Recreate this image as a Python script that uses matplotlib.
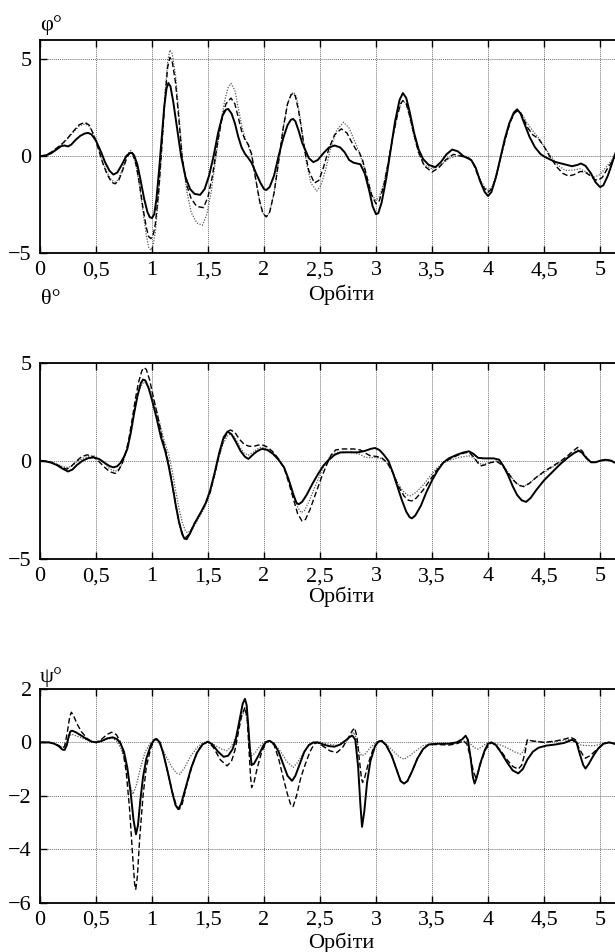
import matplotlib
matplotlib.use("Agg")
import matplotlib.pyplot as plt

plt.rcParams['font.family'] = ['Liberation Serif', 'DejaVu Serif']
plt.rcParams['font.size'] = 16

# -------------------------------------------------------------------------
# phi (top panel): (orbit, degrees)
# -------------------------------------------------------------------------
phi_solid = [(0, 0), (0.05, 0.03), (0.10, 0.15), (0.15, 0.35), (0.19, 0.52), (0.22, 0.55),
             (0.25, 0.5), (0.28, 0.6), (0.32, 0.85), (0.36, 1.05), (0.40, 1.17), (0.43, 1.2),
             (0.46, 1.12), (0.50, 0.8), (0.55, 0.15), (0.58, -0.3), (0.62, -0.75), (0.655, -0.95),
             (0.69, -0.85), (0.73, -0.45), (0.77, 0.0), (0.80, 0.15), (0.82, 0.17), (0.84, 0.05),
             (0.87, -0.45), (0.90, -1.3), (0.93, -2.2), (0.96, -2.9), (0.98, -3.15), (1.00, -3.2),
             (1.02, -3.0), (1.04, -2.2), (1.065, -0.6), (1.09, 1.2), (1.11, 2.6), (1.13, 3.5),
             (1.146, 3.78), (1.165, 3.6), (1.19, 2.8), (1.22, 1.6), (1.26, 0.0), (1.30, -1.1),
             (1.34, -1.7), (1.38, -1.95), (1.43, -2.0), (1.47, -1.7), (1.51, -1.0), (1.55, 0.0),
             (1.59, 1.2), (1.63, 2.1), (1.66, 2.4), (1.68, 2.44), (1.71, 2.2), (1.74, 1.7),
             (1.77, 1.0), (1.80, 0.45), (1.83, 0.12), (1.86, -0.1), (1.89, -0.35), (1.93, -0.9),
             (1.97, -1.4), (2.00, -1.7), (2.02, -1.75), (2.05, -1.6), (2.09, -1.0), (2.13, 0.0),
             (2.17, 0.9), (2.21, 1.6), (2.24, 1.88), (2.26, 1.92), (2.28, 1.8), (2.31, 1.3),
             (2.34, 0.7), (2.37, 0.3), (2.40, -0.1), (2.44, -0.31), (2.48, -0.2), (2.53, 0.15),
             (2.58, 0.45), (2.63, 0.55), (2.68, 0.45), (2.72, 0.2), (2.76, -0.2), (2.80, -0.34),
             (2.86, -0.42), (2.90, -0.9), (2.94, -1.8), (2.97, -2.6), (3.00, -3.0), (3.02, -2.95),
             (3.05, -2.4), (3.09, -1.2), (3.13, 0.3), (3.17, 1.8), (3.21, 2.9), (3.24, 3.26),
             (3.27, 3.0), (3.30, 2.3), (3.34, 1.2), (3.38, 0.35), (3.42, -0.15), (3.47, -0.45),
             (3.53, -0.57), (3.58, -0.3), (3.63, 0.1), (3.68, 0.34), (3.73, 0.25), (3.78, 0.0),
             (3.85, -0.2), (3.89, -0.6), (3.93, -1.3), (3.97, -1.85), (4.00, -2.06), (4.03, -1.85),
             (4.07, -1.1), (4.11, -0.1), (4.15, 0.9), (4.19, 1.7), (4.23, 2.25), (4.26, 2.42),
             (4.29, 2.2), (4.33, 1.6), (4.37, 1.0), (4.42, 0.45), (4.47, 0.1), (4.51, -0.05),
             (4.60, -0.3), (4.68, -0.42), (4.75, -0.52), (4.80, -0.45), (4.83, -0.38), (4.87, -0.5),
             (4.92, -0.9), (4.96, -1.35), (5.00, -1.6), (5.03, -1.5), (5.07, -1.0), (5.10, -0.5),
             (5.13, 0.05), (5.17, 0.6), (5.22, 1.0)]

phi_dash = [(0, 0), (0.05, 0.05), (0.10, 0.2), (0.15, 0.42), (0.20, 0.65), (0.25, 0.95),
            (0.30, 1.3), (0.35, 1.62), (0.40, 1.75), (0.44, 1.6), (0.48, 1.1), (0.52, 0.4),
            (0.56, -0.35), (0.60, -0.95), (0.64, -1.35), (0.67, -1.43), (0.70, -1.3), (0.74, -0.7),
            (0.78, 0.0), (0.81, 0.2), (0.83, 0.1), (0.86, -0.5), (0.89, -1.5), (0.92, -2.7),
            (0.95, -3.7), (0.97, -4.15), (0.99, -4.26), (1.01, -4.1), (1.03, -3.5), (1.06, -1.8),
            (1.09, 0.7), (1.12, 3.3), (1.14, 4.6), (1.16, 5.1), (1.18, 4.9), (1.21, 3.8),
            (1.24, 1.9), (1.27, -0.1), (1.31, -1.5), (1.35, -2.2), (1.40, -2.6), (1.46, -2.66),
            (1.50, -2.1), (1.54, -1.0), (1.58, 0.5), (1.62, 1.8), (1.66, 2.7), (1.705, 3.0),
            (1.74, 2.7), (1.77, 2.0), (1.80, 1.3), (1.83, 0.85), (1.86, 0.6), (1.89, 0.1),
            (1.92, -1.0), (1.96, -2.3), (1.99, -2.95), (2.02, -3.14), (2.05, -2.9), (2.09, -1.9),
            (2.13, -0.3), (2.17, 1.4), (2.21, 2.7), (2.24, 3.15), (2.26, 3.26), (2.28, 3.1),
            (2.31, 2.3), (2.34, 1.2), (2.37, 0.1), (2.40, -0.75), (2.45, -1.39), (2.49, -1.25),
            (2.53, -0.6), (2.58, 0.4), (2.63, 1.1), (2.69, 1.41), (2.74, 1.2), (2.78, 0.75),
            (2.82, 0.35), (2.85, 0.2), (2.88, -0.2), (2.92, -1.1), (2.96, -2.0), (3.00, -2.46),
            (3.03, -2.3), (3.07, -1.5), (3.11, -0.3), (3.15, 1.0), (3.19, 2.1), (3.22, 2.7),
            (3.24, 2.87), (3.27, 2.7), (3.30, 2.1), (3.34, 1.1), (3.38, 0.2), (3.43, -0.5),
            (3.50, -0.82), (3.56, -0.6), (3.62, -0.2), (3.69, 0.09), (3.76, 0.0), (3.83, -0.1),
            (3.87, -0.4), (3.91, -1.0), (3.95, -1.55), (4.00, -1.86), (4.04, -1.65), (4.08, -0.9),
            (4.12, 0.1), (4.16, 1.0), (4.20, 1.8), (4.24, 2.25), (4.27, 2.35), (4.30, 2.15),
            (4.35, 1.5), (4.40, 1.1), (4.45, 0.9), (4.50, 0.5), (4.56, -0.1), (4.62, -0.6),
            (4.67, -0.9), (4.72, -1.03), (4.77, -0.95), (4.82, -0.8), (4.86, -0.8), (4.91, -1.0),
            (4.95, -1.2), (4.98, -1.25), (5.02, -1.1), (5.06, -0.7), (5.10, -0.35), (5.13, -0.05),
            (5.17, 0.4), (5.22, 0.8)]

phi_dot = [(0, 0), (0.05, 0.05), (0.10, 0.2), (0.15, 0.4), (0.20, 0.62), (0.25, 0.92),
           (0.30, 1.25), (0.35, 1.55), (0.40, 1.67), (0.44, 1.55), (0.48, 1.1), (0.52, 0.45),
           (0.56, -0.3), (0.60, -0.85), (0.64, -1.25), (0.67, -1.34), (0.70, -1.2), (0.74, -0.6),
           (0.78, 0.1), (0.81, 0.29), (0.83, 0.15), (0.86, -0.5), (0.89, -1.6), (0.92, -2.9),
           (0.95, -4.1), (0.97, -4.7), (0.99, -4.86), (1.01, -4.6), (1.03, -3.9), (1.06, -2.0),
           (1.09, 0.6), (1.12, 3.5), (1.14, 4.9), (1.16, 5.48), (1.18, 5.3), (1.21, 4.2),
           (1.24, 2.2), (1.27, 0.0), (1.31, -1.8), (1.35, -2.9), (1.40, -3.45), (1.45, -3.57),
           (1.49, -3.0), (1.53, -1.8), (1.57, -0.1), (1.61, 1.6), (1.65, 2.9), (1.68, 3.55),
           (1.705, 3.76), (1.74, 3.4), (1.77, 2.5), (1.80, 1.6), (1.83, 0.95), (1.86, 0.5),
           (1.89, 0.0), (1.92, -1.0), (1.96, -2.3), (1.99, -2.95), (2.02, -3.14), (2.05, -2.9),
           (2.09, -1.9), (2.13, -0.3), (2.17, 1.4), (2.21, 2.7), (2.24, 3.2), (2.265, 3.3),
           (2.29, 3.05), (2.32, 2.1), (2.35, 0.8), (2.38, -0.4), (2.42, -1.4), (2.47, -1.8),
           (2.51, -1.5), (2.55, -0.7), (2.60, 0.5), (2.65, 1.35), (2.71, 1.75), (2.76, 1.45),
           (2.80, 0.9), (2.85, 0.2), (2.89, -0.5), (2.93, -1.4), (2.97, -2.05), (3.00, -2.29),
           (3.03, -2.1), (3.07, -1.4), (3.11, -0.3), (3.15, 1.0), (3.19, 2.1), (3.22, 2.7),
           (3.24, 2.87), (3.27, 2.7), (3.30, 2.0), (3.34, 1.0), (3.38, 0.15), (3.43, -0.45),
           (3.50, -0.65), (3.58, -0.45), (3.66, -0.1), (3.74, 0.03), (3.80, 0.0), (3.85, -0.2),
           (3.89, -0.6), (3.93, -1.2), (3.97, -1.6), (4.00, -1.77), (4.04, -1.55), (4.08, -0.8),
           (4.12, 0.1), (4.16, 1.0), (4.20, 1.8), (4.24, 2.25), (4.27, 2.35), (4.30, 2.2),
           (4.35, 1.7), (4.40, 1.3), (4.45, 0.95), (4.50, 0.5), (4.56, 0.0), (4.62, -0.45),
           (4.69, -0.74), (4.76, -0.72), (4.82, -0.65), (4.87, -0.8), (4.92, -1.0), (4.95, -1.08),
           (5.00, -0.95), (5.05, -0.6), (5.09, -0.3), (5.13, 0.0), (5.17, 0.4), (5.22, 0.75)]

# -------------------------------------------------------------------------
# theta (middle panel)
# -------------------------------------------------------------------------
theta_solid = [(0, 0), (0.05, -0.03), (0.10, -0.1), (0.15, -0.22), (0.20, -0.4), (0.25, -0.55),
               (0.29, -0.45), (0.33, -0.22), (0.38, 0.0), (0.43, 0.13), (0.48, 0.17), (0.53, 0.08),
               (0.58, -0.12), (0.62, -0.27), (0.655, -0.34), (0.69, -0.28), (0.72, -0.1), (0.75, 0.2),
               (0.78, 0.6), (0.81, 1.4), (0.84, 2.4), (0.87, 3.3), (0.90, 3.95), (0.92, 4.14),
               (0.94, 4.1), (0.97, 3.7), (1.00, 3.1), (1.04, 2.2), (1.08, 1.2), (1.12, 0.45),
               (1.15, -0.3), (1.18, -1.2), (1.21, -2.2), (1.24, -3.1), (1.27, -3.75), (1.29, -3.98),
               (1.31, -4.0), (1.34, -3.7), (1.38, -3.2), (1.43, -2.7), (1.48, -2.15), (1.52, -1.5),
               (1.56, -0.6), (1.60, 0.4), (1.64, 1.2), (1.675, 1.49), (1.71, 1.35), (1.75, 0.95),
               (1.79, 0.5), (1.83, 0.2), (1.86, 0.09), (1.89, 0.25), (1.93, 0.45), (1.97, 0.58),
               (1.99, 0.6), (2.03, 0.55), (2.08, 0.35), (2.13, 0.05), (2.18, -0.35), (2.22, -0.95),
               (2.26, -1.7), (2.29, -2.15), (2.31, -2.22), (2.34, -2.1), (2.38, -1.75), (2.43, -1.2),
               (2.48, -0.7), (2.53, -0.25), (2.58, 0.05), (2.63, 0.3), (2.68, 0.42), (2.75, 0.43),
               (2.84, 0.43), (2.90, 0.5), (2.95, 0.6), (2.99, 0.65), (3.03, 0.55), (3.07, 0.3),
               (3.11, 0.0), (3.15, -0.6), (3.19, -1.3), (3.23, -2.0), (3.27, -2.6), (3.30, -2.88),
               (3.32, -2.94), (3.35, -2.8), (3.40, -2.3), (3.45, -1.6), (3.50, -1.0), (3.55, -0.5),
               (3.60, -0.1), (3.65, 0.12), (3.72, 0.3), (3.78, 0.42), (3.83, 0.48), (3.87, 0.35),
               (3.91, 0.15), (3.96, 0.12), (4.05, 0.12), (4.10, 0.05), (4.14, -0.3), (4.18, -0.75),
               (4.22, -1.3), (4.26, -1.75), (4.30, -2.02), (4.34, -2.1), (4.38, -1.9), (4.43, -1.5),
               (4.50, -1.0), (4.57, -0.6), (4.64, -0.2), (4.71, 0.15), (4.77, 0.4), (4.81, 0.51),
               (4.84, 0.4), (4.88, 0.12), (4.92, -0.08), (4.96, -0.08), (5.00, 0.0), (5.05, 0.05),
               (5.10, 0.0), (5.13, -0.1), (5.20, -0.05)]

theta_dash = [(0, 0), (0.05, -0.02), (0.10, -0.08), (0.15, -0.2), (0.20, -0.35), (0.24, -0.43),
              (0.28, -0.28), (0.32, -0.05), (0.37, 0.2), (0.42, 0.3), (0.47, 0.22), (0.52, 0.0),
              (0.57, -0.3), (0.62, -0.55), (0.67, -0.65), (0.70, -0.5), (0.73, -0.2), (0.76, 0.3),
              (0.79, 1.0), (0.82, 2.0), (0.85, 3.1), (0.88, 4.0), (0.91, 4.6), (0.93, 4.75),
              (0.95, 4.65), (0.98, 4.1), (1.01, 3.3), (1.05, 2.3), (1.09, 1.2), (1.13, 0.35),
              (1.16, -0.5), (1.19, -1.5), (1.22, -2.5), (1.25, -3.35), (1.28, -3.85), (1.30, -3.93),
              (1.33, -3.75), (1.37, -3.3), (1.42, -2.8), (1.47, -2.3), (1.52, -1.6), (1.56, -0.7),
              (1.60, 0.3), (1.64, 1.1), (1.68, 1.5), (1.70, 1.57), (1.74, 1.45), (1.78, 1.1),
              (1.82, 0.85), (1.86, 0.75), (1.90, 0.72), (1.95, 0.8), (1.98, 0.82), (2.03, 0.7),
              (2.08, 0.45), (2.13, 0.1), (2.18, -0.4), (2.22, -1.1), (2.26, -1.9), (2.30, -2.7),
              (2.34, -3.08), (2.37, -3.0), (2.41, -2.5), (2.46, -1.7), (2.51, -0.9), (2.56, -0.2),
              (2.60, 0.3), (2.64, 0.55), (2.70, 0.6), (2.80, 0.6), (2.86, 0.55), (2.90, 0.4),
              (2.95, 0.25), (3.00, 0.22), (3.05, 0.15), (3.10, -0.1), (3.15, -0.6), (3.20, -1.3),
              (3.25, -1.8), (3.29, -2.02), (3.32, -2.05), (3.36, -1.9), (3.42, -1.5), (3.48, -1.0),
              (3.54, -0.5), (3.60, -0.1), (3.66, 0.1), (3.73, 0.28), (3.79, 0.4), (3.83, 0.43),
              (3.87, 0.2), (3.91, -0.12), (3.94, -0.26), (3.98, -0.2), (4.02, -0.1), (4.08, -0.05),
              (4.12, -0.2), (4.17, -0.55), (4.22, -0.95), (4.27, -1.25), (4.32, -1.32), (4.37, -1.15),
              (4.43, -0.85), (4.50, -0.55), (4.57, -0.3), (4.64, -0.05), (4.70, 0.2), (4.75, 0.45),
              (4.80, 0.68), (4.84, 0.5), (4.88, 0.15), (4.92, -0.08), (4.96, -0.08), (5.00, 0.0),
              (5.05, 0.05), (5.10, 0.0), (5.13, -0.1), (5.20, -0.05)]

theta_dot = [(0, 0), (0.05, -0.02), (0.10, -0.07), (0.15, -0.17), (0.20, -0.3), (0.25, -0.35),
             (0.29, -0.25), (0.33, -0.05), (0.38, 0.12), (0.43, 0.22), (0.48, 0.25), (0.53, 0.1),
             (0.58, -0.15), (0.62, -0.4), (0.67, -0.55), (0.70, -0.45), (0.73, -0.2), (0.76, 0.25),
             (0.79, 0.9), (0.82, 1.8), (0.85, 2.8), (0.88, 3.5), (0.91, 3.9), (0.93, 4.02),
             (0.96, 3.9), (0.99, 3.55), (1.03, 2.8), (1.07, 1.9), (1.11, 1.0), (1.15, 0.3),
             (1.18, -0.5), (1.21, -1.5), (1.24, -2.4), (1.27, -3.15), (1.30, -3.6), (1.32, -3.68),
             (1.36, -3.5), (1.41, -3.0), (1.46, -2.5), (1.51, -1.8), (1.55, -0.9), (1.59, 0.0),
             (1.63, 0.8), (1.67, 1.25), (1.70, 1.37), (1.74, 1.2), (1.78, 0.75), (1.82, 0.4),
             (1.86, 0.28), (1.90, 0.42), (1.94, 0.6), (1.98, 0.7), (2.03, 0.6), (2.08, 0.4),
             (2.13, 0.05), (2.18, -0.35), (2.22, -0.95), (2.26, -1.6), (2.30, -2.35), (2.33, -2.65),
             (2.36, -2.55), (2.40, -2.1), (2.45, -1.4), (2.50, -0.7), (2.55, -0.1), (2.60, 0.3),
             (2.65, 0.42), (2.72, 0.45), (2.80, 0.4), (2.86, 0.32), (2.90, 0.18), (2.95, 0.15),
             (2.99, 0.17), (3.04, 0.12), (3.09, -0.05), (3.14, -0.5), (3.19, -1.1), (3.24, -1.55),
             (3.28, -1.75), (3.31, -1.79), (3.36, -1.6), (3.42, -1.25), (3.48, -0.8), (3.54, -0.4),
             (3.60, -0.1), (3.67, 0.05), (3.75, 0.18), (3.83, 0.25), (3.87, 0.15), (3.91, -0.05),
             (3.94, -0.2), (3.98, -0.15), (4.04, -0.05), (4.09, 0.0), (4.13, -0.2), (4.18, -0.6),
             (4.23, -1.0), (4.28, -1.25), (4.32, -1.3), (4.37, -1.15), (4.43, -0.85), (4.50, -0.6),
             (4.57, -0.35), (4.64, -0.1), (4.70, 0.1), (4.76, 0.35), (4.80, 0.55), (4.84, 0.4),
             (4.88, 0.1), (4.92, -0.08), (4.96, -0.08), (5.00, 0.0), (5.05, 0.05), (5.10, 0.0),
             (5.13, -0.1), (5.20, -0.05)]

# -------------------------------------------------------------------------
# psi (bottom panel)
# -------------------------------------------------------------------------
psi_solid = [(0, 0), (0.08, 0.0), (0.13, -0.05), (0.17, -0.15), (0.20, -0.27), (0.22, -0.28),
             (0.24, -0.1), (0.255, 0.2), (0.27, 0.4), (0.285, 0.44), (0.32, 0.38), (0.37, 0.25),
             (0.42, 0.12), (0.46, 0.03), (0.50, 0.0), (0.55, 0.05), (0.60, 0.15), (0.65, 0.19),
             (0.69, 0.12), (0.72, -0.05), (0.75, -0.35), (0.78, -0.95), (0.81, -1.9), (0.835, -2.9),
             (0.857, -3.44), (0.875, -3.1), (0.895, -2.2), (0.92, -1.3), (0.95, -0.6), (0.99, -0.1),
             (1.02, 0.1), (1.04, 0.13), (1.07, 0.0), (1.10, -0.4), (1.14, -1.1), (1.18, -1.85),
             (1.21, -2.35), (1.235, -2.5), (1.26, -2.3), (1.30, -1.7), (1.35, -0.95), (1.40, -0.4),
             (1.45, -0.08), (1.50, 0.03), (1.54, -0.08), (1.59, -0.35), (1.64, -0.54), (1.68, -0.5),
             (1.72, -0.25), (1.75, 0.15), (1.78, 0.8), (1.81, 1.45), (1.83, 1.63), (1.845, 1.4),
             (1.86, 0.6), (1.875, -0.3), (1.89, -0.85), (1.91, -0.8), (1.95, -0.5), (1.99, -0.15),
             (2.02, 0.02), (2.05, 0.06), (2.09, -0.05), (2.13, -0.35), (2.17, -0.8), (2.21, -1.25),
             (2.25, -1.44), (2.28, -1.25), (2.32, -0.8), (2.36, -0.35), (2.40, -0.1), (2.44, 0.0),
             (2.48, 0.0), (2.53, -0.08), (2.58, -0.14), (2.63, -0.16), (2.68, -0.08), (2.73, 0.08),
             (2.77, 0.22), (2.79, 0.25), (2.815, 0.1), (2.84, -0.9), (2.86, -2.3), (2.875, -3.16),
             (2.895, -2.6), (2.92, -1.5), (2.95, -0.7), (2.99, -0.15), (3.02, 0.03), (3.05, 0.06),
             (3.09, -0.1), (3.14, -0.5), (3.19, -1.1), (3.22, -1.45), (3.25, -1.54), (3.28, -1.45),
             (3.32, -1.1), (3.37, -0.6), (3.42, -0.25), (3.47, -0.08), (3.55, -0.05), (3.65, -0.05),
             (3.72, 0.0), (3.77, 0.12), (3.80, 0.25), (3.82, 0.1), (3.845, -0.6), (3.865, -1.3),
             (3.88, -1.54), (3.90, -1.3), (3.93, -0.8), (3.97, -0.3), (4.00, -0.05), (4.03, 0.0),
             (4.07, -0.1), (4.12, -0.4), (4.17, -0.75), (4.22, -1.05), (4.27, -1.16), (4.31, -1.0),
             (4.35, -0.65), (4.40, -0.35), (4.45, -0.2), (4.52, -0.12), (4.60, -0.08), (4.68, -0.02),
             (4.75, 0.1), (4.79, 0.0), (4.82, -0.45), (4.85, -0.85), (4.87, -0.98), (4.90, -0.8),
             (4.94, -0.5), (4.98, -0.25), (5.03, -0.05), (5.08, 0.0), (5.13, -0.05), (5.20, -0.2)]

psi_dash = [(0, 0), (0.08, 0.0), (0.13, -0.05), (0.17, -0.12), (0.20, -0.22), (0.22, -0.15),
            (0.245, 0.4), (0.265, 0.95), (0.28, 1.13), (0.30, 1.0), (0.33, 0.7), (0.37, 0.4),
            (0.42, 0.15), (0.46, 0.03), (0.50, 0.0), (0.55, 0.12), (0.60, 0.3), (0.64, 0.38),
            (0.68, 0.3), (0.71, 0.1), (0.74, -0.3), (0.77, -1.1), (0.80, -2.5), (0.825, -4.1),
            (0.845, -5.3), (0.855, -5.5), (0.87, -5.0), (0.89, -3.6), (0.92, -2.0), (0.95, -0.9),
            (0.99, -0.2), (1.02, 0.08), (1.04, 0.13), (1.07, 0.0), (1.10, -0.4), (1.14, -1.1),
            (1.18, -1.85), (1.22, -2.4), (1.245, -2.5), (1.27, -2.3), (1.31, -1.6), (1.36, -0.85),
            (1.41, -0.3), (1.46, -0.05), (1.50, 0.03), (1.55, -0.2), (1.61, -0.65), (1.67, -0.88),
            (1.71, -0.7), (1.74, -0.3), (1.77, 0.35), (1.80, 1.0), (1.83, 1.31), (1.85, 0.9),
            (1.865, -0.2), (1.88, -1.3), (1.89, -1.69), (1.91, -1.5), (1.94, -0.95), (1.98, -0.35),
            (2.02, 0.0), (2.05, 0.06), (2.09, -0.1), (2.13, -0.6), (2.17, -1.3), (2.21, -1.95),
            (2.24, -2.35), (2.26, -2.4), (2.29, -2.0), (2.33, -1.3), (2.37, -0.8), (2.41, -0.35),
            (2.45, -0.05), (2.48, 0.0), (2.53, -0.15), (2.59, -0.32), (2.65, -0.38), (2.70, -0.2),
            (2.75, 0.15), (2.79, 0.45), (2.81, 0.54), (2.83, 0.2), (2.85, -0.6), (2.87, -1.35),
            (2.88, -1.5), (2.90, -1.3), (2.93, -0.8), (2.97, -0.3), (3.01, -0.02), (3.05, 0.06),
            (3.09, -0.1), (3.14, -0.5), (3.19, -1.1), (3.22, -1.45), (3.25, -1.54), (3.28, -1.45),
            (3.32, -1.1), (3.37, -0.6), (3.42, -0.25), (3.47, -0.08), (3.55, -0.08), (3.65, -0.1),
            (3.72, -0.05), (3.78, 0.05), (3.81, -0.05), (3.84, -0.5), (3.87, -1.1), (3.89, -1.31),
            (3.91, -1.15), (3.94, -0.7), (3.98, -0.25), (4.03, 0.0), (4.07, -0.1), (4.12, -0.35),
            (4.17, -0.65), (4.22, -0.9), (4.27, -1.0), (4.30, -0.85), (4.33, -0.4), (4.35, 0.09),
            (4.40, 0.05), (4.50, 0.0), (4.60, 0.05), (4.68, 0.12), (4.74, 0.19), (4.78, 0.1),
            (4.81, -0.2), (4.85, -0.5), (4.87, -0.59), (4.91, -0.5), (4.95, -0.35), (5.00, -0.15),
            (5.05, -0.03), (5.08, 0.0), (5.13, -0.05), (5.20, -0.2)]

psi_dot = [(0, 0), (0.08, 0.0), (0.13, -0.05), (0.17, -0.12), (0.20, -0.2), (0.22, -0.15),
           (0.25, 0.15), (0.28, 0.31), (0.32, 0.25), (0.37, 0.17), (0.42, 0.08), (0.48, 0.0),
           (0.55, 0.05), (0.60, 0.12), (0.64, 0.16), (0.68, 0.08), (0.72, -0.2), (0.76, -0.7),
           (0.80, -1.55), (0.83, -1.94), (0.86, -1.6), (0.90, -0.9), (0.94, -0.35), (0.98, -0.05),
           (1.02, 0.08), (1.04, 0.1), (1.08, -0.15), (1.13, -0.55), (1.18, -0.95), (1.22, -1.15),
           (1.25, -1.19), (1.29, -0.95), (1.34, -0.55), (1.40, -0.2), (1.45, -0.03), (1.50, 0.03),
           (1.56, -0.1), (1.62, -0.25), (1.67, -0.31), (1.71, -0.15), (1.75, 0.25), (1.79, 0.85),
           (1.83, 1.25), (1.85, 0.8), (1.87, 0.0), (1.89, -0.5), (1.92, -0.4), (1.96, -0.15),
           (2.01, 0.02), (2.05, 0.06), (2.10, -0.1), (2.15, -0.35), (2.20, -0.7), (2.26, -0.94),
           (2.30, -0.75), (2.35, -0.4), (2.40, -0.12), (2.45, 0.0), (2.50, 0.0), (2.60, -0.08),
           (2.66, -0.12), (2.72, 0.0), (2.77, 0.2), (2.80, 0.38), (2.82, 0.2), (2.845, -0.3),
           (2.87, -0.5), (2.90, -0.45), (2.95, -0.2), (3.00, 0.0), (3.05, 0.06), (3.10, -0.1),
           (3.16, -0.35), (3.21, -0.55), (3.25, -0.63), (3.30, -0.5), (3.36, -0.3), (3.42, -0.12),
           (3.50, -0.05), (3.60, -0.04), (3.70, -0.03), (3.77, 0.03), (3.80, 0.06), (3.84, -0.05),
           (3.88, -0.2), (3.91, -0.25), (3.95, -0.15), (3.99, -0.03), (4.03, 0.0), (4.10, -0.08),
           (4.17, -0.2), (4.24, -0.36), (4.29, -0.44), (4.32, -0.3), (4.35, 0.09), (4.42, 0.05),
           (4.50, 0.0), (4.62, 0.05), (4.72, 0.1), (4.78, 0.05), (4.83, -0.1), (4.88, -0.12),
           (4.95, -0.12), (5.02, -0.05), (5.08, 0.0), (5.13, -0.05), (5.20, -0.2)]

x_ticks = [0, 0.5, 1, 1.5, 2, 2.5, 3, 3.5, 4, 4.5, 5]
x_tick_labels = ["0", "0,5", "1", "1,5", "2", "2,5", "3", "3,5", "4", "4,5", "5"]
x_label = "Орбіти"

panels = [
    # (solid, dashed, dotted, ylim, yticks, ylabel, axes rect, ylabel y, xlabel y)
    (phi_solid, phi_dash, phi_dot, (-5, 6), [-5, 0, 5], "φ°",
     [0.065, 0.7343, 0.979, 0.2237], 0.974, 0.690),
    (theta_solid, theta_dash, theta_dot, (-5, 5), [-5, 0, 5], "θ°",
     [0.065, 0.4131, 0.979, 0.2059], 0.685, 0.373),
    (psi_solid, psi_dash, psi_dot, (-6, 2), [-6, -4, -2, 0, 2], "ψ°",
     [0.065, 0.0518, 0.979, 0.2245], 0.289, 0.0095),
]

fig = plt.figure(figsize=(6.15, 9.52), dpi=100)

for solid, dash, dot, ylim, yticks, ylab, rect, ylab_y, xlab_y in panels:
    ax = fig.add_axes(rect)
    x, y = zip(*dot)
    ax.plot(x, y, color="0.35", linestyle=(0, (1, 1.2)), linewidth=0.9)
    x, y = zip(*dash)
    ax.plot(x, y, color="black", linestyle=(0, (4, 2)), linewidth=1.0)
    x, y = zip(*solid)
    ax.plot(x, y, color="black", linestyle="-", linewidth=1.4, solid_joinstyle="round")

    ax.set_xlim(0, 5.375)
    ax.set_ylim(*ylim)
    ax.set_xticks(x_ticks)
    ax.set_xticklabels(x_tick_labels)
    ax.set_yticks(yticks)
    ax.set_yticklabels([str(v).replace("-", "\u2212") for v in yticks])
    ax.grid(True, linestyle=(0, (1, 1)), color="0.45", linewidth=0.7)
    ax.tick_params(direction="in", length=5, width=1.0, top=True, right=True,
                   pad=6, labelsize=16)
    for sp in ax.spines.values():
        sp.set_linewidth(1.3)

    fig.text(51 / 615, ylab_y, ylab, ha="center", va="center", fontsize=16)
    fig.text(341 / 615, xlab_y, x_label, ha="center", va="center", fontsize=16)

fig.savefig("out.png", dpi=100)
